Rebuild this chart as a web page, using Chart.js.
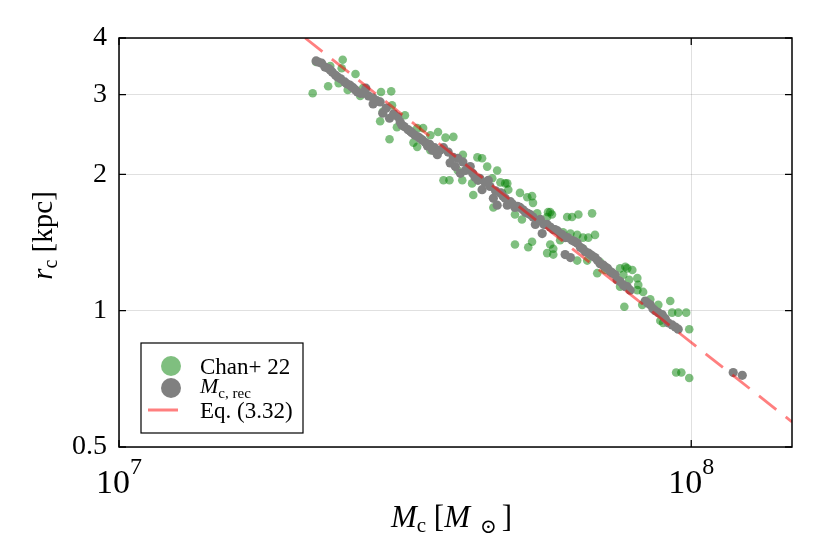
<!DOCTYPE html>
<html>
<head>
<meta charset="utf-8">
<script src="https://cdn.jsdelivr.net/npm/chart.js@4.4.1/dist/chart.umd.min.js"></script>
<style>
    html, body { margin: 0; padding: 0; background: #fff; }
    #wrap { width: 830px; height: 554px; position: relative; }
</style>
</head>
<body>
<div id="wrap"><canvas id="rcChart"></canvas></div>
<script>
// Chan+ 22 sample: core mass [1e7 Msun] and core radius [kpc]
const chanMass = [2.18, 2.21, 2.32, 2.46, 2.45, 2.42, 2.59, 2.67, 2.64, 2.87, 2.99, 3.00, 2.89, 2.86, 2.97,
    3.16, 3.06, 3.32, 3.50, 3.61, 3.72, 3.84, 3.32, 3.60, 3.40, 3.69, 3.78, 3.99, 4.23, 4.31,
    4.40, 4.58, 3.98, 4.14, 4.16, 4.49, 4.64, 4.77, 4.79, 4.67, 4.51, 5.02, 5.17, 5.27, 5.29,
    5.62, 5.71, 6.07, 5.60, 4.73, 5.67, 5.38, 5.06, 6.19, 6.35, 6.71, 5.97, 6.15, 6.32, 6.47,
    6.61, 6.79, 4.92, 5.19, 5.27, 5.67, 5.74, 5.60, 5.74, 6.47, 6.58, 6.32, 6.93, 7.51, 7.67,
    7.89, 8.05, 7.61, 6.85, 7.73, 7.79, 7.51, 8.08, 8.24, 8.05, 7.64, 8.21, 8.76, 9.19, 9.26,
    9.49, 9.80, 8.83, 8.93, 9.92, 9.41, 9.61, 9.92, 3.27, 2.34, 2.51, 3.50, 3.91, 4.92, 5.90,
    7.07, 8.48];
const chanRadius = [3.02, 3.54, 3.13, 3.58, 3.43, 3.18, 3.33, 3.10, 2.98, 3.04, 3.05, 2.84, 2.75, 2.62, 2.39,
    2.70, 2.54, 2.53, 2.44, 2.48, 2.41, 2.42, 2.30, 2.26, 2.53, 1.94, 1.94, 2.21, 2.18, 2.17,
    2.08, 2.04, 1.94, 1.91, 1.80, 1.96, 1.92, 1.91, 1.85, 1.82, 1.69, 1.82, 1.78, 1.79, 1.73,
    1.65, 1.63, 1.61, 1.61, 1.91, 1.65, 1.64, 1.59, 1.61, 1.63, 1.64, 1.49, 1.48, 1.47, 1.45,
    1.45, 1.47, 1.40, 1.38, 1.42, 1.40, 1.37, 1.34, 1.33, 1.37, 1.29, 1.29, 1.28, 1.24, 1.25,
    1.23, 1.18, 1.20, 1.21, 1.24, 1.17, 1.13, 1.14, 1.10, 1.11, 1.02, 1.03, 1.03, 1.05, 0.99,
    0.99, 0.99, 0.95, 0.94, 0.91, 0.73, 0.73, 0.71, 2.35, 3.47, 3.07, 2.26, 2.04, 1.63, 1.43,
    1.23, 1.06];

// reconstructed core masses [1e7 Msun] and radius [kpc]
const recMass = [2.21, 2.23, 2.26, 2.29, 2.32, 2.34, 2.36, 2.39, 2.41, 2.48, 2.53, 2.57, 2.61, 2.64, 2.67,
    2.70, 2.78, 2.78, 2.86, 2.89, 2.97, 3.07, 3.10, 3.12, 3.20, 3.25, 3.29, 3.33, 3.39, 3.43,
    3.46, 3.53, 3.60, 3.64, 3.69, 3.76, 3.79, 3.87, 3.91, 3.95, 3.99, 4.03, 4.11, 4.19, 4.24,
    4.31, 4.36, 4.42, 4.45, 4.51, 4.58, 4.64, 4.73, 4.77, 4.83, 4.92, 5.02, 5.13, 5.23, 5.29,
    5.34, 5.45, 5.49, 5.60, 5.67, 5.74, 5.78, 5.90, 6.02, 6.02, 6.15, 6.19, 6.32, 6.40, 6.53,
    6.61, 6.66, 6.79, 6.93, 7.02, 7.07, 7.22, 7.36, 7.42, 7.51, 7.61, 7.73, 7.82, 8.31, 8.48,
    8.65, 8.76, 8.90, 9.11, 9.26, 9.49, 11.84, 12.28,
    2.44, 2.50, 2.55, 2.59, 2.73, 2.82, 2.93, 3.02, 3.15, 3.23, 3.36, 3.49, 3.56, 3.84, 4.07,
    4.15, 4.27, 4.55, 4.69, 4.87, 4.97, 5.08, 5.18, 5.40, 5.53, 5.84, 5.96, 6.08, 6.26, 6.46,
    6.72, 6.86, 7.14, 7.29, 7.67, 8.39, 8.57, 9.01, 9.38];
const recRadius = [3.56, 3.54, 3.52, 3.45, 3.43, 3.40, 3.36, 3.31, 3.28, 3.20, 3.15, 3.10, 3.04, 3.02, 3.02,
    3.10, 2.95, 2.86, 2.89, 2.73, 2.66, 2.68, 2.61, 2.57, 2.51, 2.47, 2.44, 2.42, 2.38, 2.35,
    2.31, 2.26, 2.21, 2.26, 2.29, 2.24, 2.12, 2.08, 2.17, 2.01, 2.13, 2.04, 2.08, 1.97, 1.94,
    1.85, 1.92, 1.94, 1.88, 1.77, 1.71, 1.82, 1.77, 1.71, 1.74, 1.69, 1.69, 1.65, 1.63, 1.61,
    1.55, 1.59, 1.48, 1.55, 1.53, 1.51, 1.51, 1.48, 1.45, 1.33, 1.31, 1.43, 1.41, 1.38, 1.35,
    1.34, 1.33, 1.31, 1.27, 1.26, 1.25, 1.22, 1.20, 1.17, 1.16, 1.14, 1.13, 1.11, 1.05, 1.03,
    1.00, 0.99, 0.98, 0.94, 0.93, 0.91, 0.73, 0.72,
    3.25, 3.17, 3.12, 3.07, 2.98, 2.91, 2.80, 2.72, 2.55, 2.49, 2.40, 2.33, 2.29, 2.18, 2.06,
    2.01, 1.96, 1.84, 1.79, 1.72, 1.70, 1.67, 1.64, 1.58, 1.55, 1.50, 1.47, 1.45, 1.42, 1.37,
    1.32, 1.29, 1.24, 1.21, 1.13, 1.04, 1.01, 0.96, 0.92];

// Eq. (3.32) relation, end points
const eqMass = [2.115, 15.0];
const eqRadius = [4.0, 0.568];

const xTicks = [1e7, 1e8];
const yTicks = [0.5, 1, 2, 3, 4];

const SERIF = '"Liberation Serif", "DejaVu Serif", serif';

const toPoints = (ms, rs) => ms.map((m, i) => ({ x: m * 1e7, y: rs[i] }));

// draw a run of text pieces with different sizes / offsets (for sub/superscripts)
function richText(ctx, parts, x, y, align) {
    let width = 0;
    parts.forEach(p => {
        ctx.font = `${p.italic ? 'italic ' : ''}${p.size}px ${SERIF}`;
        p.w = ctx.measureText(p.t).width;
        width += p.w;
    });
    let cx = align === 'center' ? x - width / 2 : (align === 'right' ? x - width : x);
    parts.forEach(p => {
        ctx.font = `${p.italic ? 'italic ' : ''}${p.size}px ${SERIF}`;
        ctx.fillText(p.t, cx, y + (p.dy || 0));
        cx += p.w;
    });
}

const decorPlugin = {
    id: 'decor',
    afterDraw(chart) {
        const { ctx, chartArea: ca, scales } = chart;
        ctx.save();
        ctx.fillStyle = '#000';
        ctx.strokeStyle = '#000';
        ctx.textBaseline = 'alphabetic';

        // inward tick marks on all four sides
        ctx.lineWidth = 1.3;
        ctx.beginPath();
        yTicks.forEach(v => {
            const py = scales.y.getPixelForValue(v);
            ctx.moveTo(ca.left, py); ctx.lineTo(ca.left + 7, py);
            ctx.moveTo(ca.right, py); ctx.lineTo(ca.right - 7, py);
        });
        xTicks.forEach(v => {
            const px = scales.x.getPixelForValue(v);
            ctx.moveTo(px, ca.bottom); ctx.lineTo(px, ca.bottom - 7);
            ctx.moveTo(px, ca.top); ctx.lineTo(px, ca.top + 7);
        });
        ctx.stroke();

        // frame
        ctx.lineWidth = 1.5;
        ctx.strokeRect(ca.left, ca.top, ca.right - ca.left, ca.bottom - ca.top);

        // x tick labels 10^n
        xTicks.forEach(v => {
            const px = scales.x.getPixelForValue(v);
            richText(ctx, [
                { t: '10', size: 34 },
                { t: String(Math.round(Math.log10(v))), size: 24, dy: -19 }
            ], px, ca.bottom + 46, 'center');
        });

        // axis titles
        richText(ctx, [
            { t: 'M', size: 31, italic: true },
            { t: 'c', size: 21, dy: 5 },
            { t: ' [', size: 31 },
            { t: 'M', size: 31, italic: true },
            { t: '  \u2299 ', size: 20, dy: 6 },
            { t: ']', size: 31 }
        ], (ca.left + ca.right) / 2 - 4, ca.bottom + 80, 'center');

        ctx.save();
        ctx.translate(52, (ca.top + ca.bottom) / 2 - 7);
        ctx.rotate(-Math.PI / 2);
        richText(ctx, [
            { t: 'r', size: 29, italic: true },
            { t: 'c', size: 20, dy: 5 },
            { t: ' [kpc]', size: 29 }
        ], 0, 0, 'center');
        ctx.restore();

        // legend box inside the plot, lower left
        const ds = chart.data.datasets;
        const lx = ca.left + 22, ly = ca.bottom - 104;
        ctx.fillStyle = '#fff';
        ctx.fillRect(lx, ly, 162, 90);
        ctx.lineWidth = 1.2;
        ctx.strokeRect(lx, ly, 162, 90);

        const rows = [ly + 23, ly + 45, ly + 67];
        ctx.fillStyle = ds[0].backgroundColor;
        ctx.beginPath(); ctx.arc(lx + 30, rows[0], 10, 0, Math.PI * 2); ctx.fill();
        ctx.fillStyle = ds[1].backgroundColor;
        ctx.beginPath(); ctx.arc(lx + 30, rows[1], 10, 0, Math.PI * 2); ctx.fill();
        ctx.strokeStyle = ds[2].borderColor;
        ctx.lineWidth = 3;
        ctx.beginPath(); ctx.moveTo(lx + 7, rows[2]); ctx.lineTo(lx + 37, rows[2]); ctx.stroke();

        ctx.fillStyle = '#000';
        richText(ctx, [{ t: ds[0].label, size: 23 }], lx + 59, rows[0] + 8, 'left');
        richText(ctx, [
            { t: 'M', size: 22, italic: true },
            { t: 'c, rec', size: 15, dy: 5 }
        ], lx + 59, rows[1] + 5, 'left');
        richText(ctx, [{ t: ds[2].label, size: 23 }], lx + 59, rows[2] + 8, 'left');

        ctx.restore();
    }
};

new Chart(document.getElementById('rcChart'), {
    type: 'scatter',
    data: {
        datasets: [
            {
                label: 'Chan+ 22',
                data: toPoints(chanMass, chanRadius),
                backgroundColor: 'rgba(0, 128, 0, 0.5)',
                borderWidth: 0,
                pointRadius: 4.3,
                order: 3
            },
            {
                label: 'M_c,rec',
                data: toPoints(recMass, recRadius),
                backgroundColor: '#808080',
                borderWidth: 0,
                pointRadius: 4.6,
                order: 2
            },
            {
                label: 'Eq. (3.32)',
                data: toPoints(eqMass, eqRadius),
                showLine: true,
                borderColor: 'rgba(255, 0, 0, 0.5)',
                borderWidth: 2.8,
                borderDash: [22, 12],
                pointRadius: 0,
                fill: false,
                order: 1
            }
        ]
    },
    options: {
        responsive: true,
        maintainAspectRatio: false,
        animation: false,
        events: [],
        layout: { padding: { left: 0, right: 38, top: 38, bottom: 0 } },
        plugins: {
            legend: { display: false },
            tooltip: { enabled: false }
        },
        scales: {
            x: {
                type: 'logarithmic',
                min: 1e7,
                max: 1.5e8,
                afterBuildTicks: (scale) => { scale.ticks = xTicks.map(v => ({ value: v })); },
                afterFit: (scale) => { scale.height = 107; },
                grid: { color: 'rgba(0,0,0,0.12)', lineWidth: 1, drawTicks: false },
                border: { display: false },
                ticks: { display: false, autoSkip: false }
            },
            y: {
                type: 'logarithmic',
                min: 0.5,
                max: 4,
                afterBuildTicks: (scale) => { scale.ticks = yTicks.map(v => ({ value: v })); },
                afterFit: (scale) => { scale.width = 119; },
                grid: { color: 'rgba(0,0,0,0.12)', lineWidth: 1, drawTicks: false },
                border: { display: false },
                ticks: {
                    autoSkip: false,
                    padding: 12,
                    color: '#000',
                    font: { family: SERIF, size: 28 },
                    callback: (v) => String(v)
                }
            }
        }
    },
    plugins: [decorPlugin]
});
</script>
</body>
</html>
